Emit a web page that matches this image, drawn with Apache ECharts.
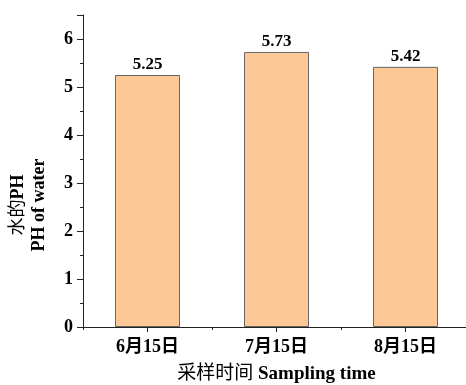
<!DOCTYPE html>
<html><head><meta charset="utf-8">
<script src="https://cdn.jsdelivr.net/npm/echarts@6/dist/echarts.min.js"></script>
<style>html,body{margin:0;padding:0;background:#fff}#c{width:466px;height:385px}</style>
</head><body><div id="c"></div>
<script>
const categories = ['6月15日', '7月15日', '8月15日'];
const phValues = [5.25, 5.73, 5.42];
const yTicks = [0, 1, 2, 3, 4, 5, 6];

const serif = '"Liberation Serif", "Times New Roman", "Noto Sans CJK SC", serif';
const chart = echarts.init(document.getElementById('c'), null, {renderer: 'canvas'});
chart.setOption({
  animation: false,
  backgroundColor: '#fff',
  grid: {left: 83, top: 15, width: 387, bottom: 58, containLabel: false, outerBoundsMode: 'none'},
  xAxis: [{
    type: 'category', data: categories,
    axisLine: {show: true, lineStyle: {color: '#222', width: 1}},
    axisTick: {show: true, alignWithLabel: true, length: 5, lineStyle: {color: '#222'}},
    axisLabel: {margin: 11, color: '#000', fontFamily: serif, fontWeight: 'bold', fontSize: 18},
    name: '{cn|采样时间 }{en|Sampling time}', nameLocation: 'middle', nameGap: 38,
    nameTextStyle: {rich: {
      cn: {fontFamily: serif, fontSize: 19, color: '#000'},
      en: {fontFamily: serif, fontSize: 19, fontWeight: 'bold', color: '#000'}
    }}
  }, {
    type: 'category', data: categories, position: 'bottom',
    axisLine: {show: false}, axisLabel: {show: false},
    axisTick: {show: true, alignWithLabel: false, length: 3, lineStyle: {color: '#222'}}
  }],
  yAxis: {
    type: 'value', min: 0, max: 6.5, interval: 1,
    axisLine: {show: true, lineStyle: {color: '#222', width: 1}},
    axisTick: {show: true, length: 6, lineStyle: {color: '#222'}},
    minorTick: {show: true, splitNumber: 2, length: 3, lineStyle: {color: '#222'}},
    splitLine: {show: false},
    axisLabel: {margin: 10, color: '#000', fontFamily: serif, fontWeight: 'bold', fontSize: 18,
      formatter: v => yTicks.includes(v) ? String(v) : ''}
  },
  series: [{
    type: 'bar', data: phValues, barWidth: 65, xAxisIndex: 0,
    itemStyle: {color: '#FBC896', borderColor: '#666', borderWidth: 1},
    label: {show: true, position: 'top', distance: 2, color: '#000', fontFamily: serif, fontWeight: 'bold', fontSize: 17,
      formatter: p => p.value.toFixed(2)}
  }],
  graphic: [{
    type: 'text', x: 7.5, y: 205, rotation: Math.PI / 2,
    style: {
      text: '{cn|水的}{en|PH}\n{en|PH of water}',
      align: 'center', verticalAlign: 'top', lineHeight: 21,
      rich: {
        cn: {fontFamily: serif, fontSize: 18, color: '#000', lineHeight: 21},
        en: {fontFamily: serif, fontSize: 18, fontWeight: 'bold', color: '#000', lineHeight: 21}
      }
    }
  }]
});
</script></body></html>
